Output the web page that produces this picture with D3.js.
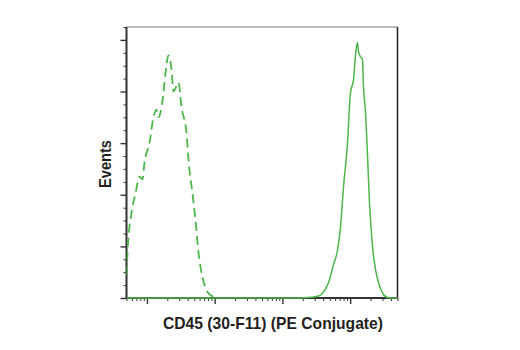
<!DOCTYPE html>
<html>
<head>
<meta charset="utf-8">
<script src="https://cdn.jsdelivr.net/npm/d3@7"></script>
<style>
  html, body { margin: 0; padding: 0; background: #fff; }
  svg { display: block; }
  .lbl { font-family: "Liberation Sans Narrow", "Arial Narrow", "Liberation Sans", Arial, sans-serif; font-weight: bold; fill: #231f20; }
</style>
</head>
<body>
<svg id="chart" width="520" height="350"></svg>
<script>
// Isotype control histogram (dashed): fluorescence intensity vs. event count
const controlIntensity = [50, 51.7, 59.3, 67.9, 77.7, 86.1, 92.2, 109, 125, 139, 148, 170, 188, 208, 231, 247, 293, 324, 384, 411, 471, 522, 578, 662, 784, 962, 1100];
const controlCounts    = [18, 35, 66, 81, 94, 92, 105, 120, 140, 146, 140, 153, 174, 188, 177, 160, 167, 148, 128, 107, 81, 60, 35, 16, 4.6, 0.8, 0];

// CD45 stained histogram (solid)
const stainedIntensity = [50, 18500, 26000, 34100, 43300, 49500, 56800, 65100, 72100, 79800, 91400, 101000, 112000, 120000, 128000, 133000, 142000, 152000, 157000, 169000, 180000, 193000, 214000, 237000, 262000, 300000, 356000, 422000, 500000];
const stainedCounts    = [0, 0, 0.5, 1.5, 7, 14, 26, 37, 55, 86, 120, 159, 169, 188, 198, 191, 187, 185, 165, 143, 112, 74, 40, 22, 12, 4, 0.4, 0, 0];

const xDomain = [50, 500000];
const xMajorTicks = [100, 1000, 10000, 100000];
const yDomain = [0, 210];
const yMajorTicks = [0, 40, 80, 120, 160, 200];

const xLabel = "CD45 (30-F11) (PE Conjugate)";
const yLabel = "Events";

const svg = d3.select("#chart");
const m = { left: 126.5, top: 27, right: 397.5, bottom: 298 };
const green = "#4cb748";

const x = d3.scaleLog().domain(xDomain).range([m.left, m.right]);
const y = d3.scaleLinear().domain(yDomain).range([m.bottom, m.top]);

// minor log ticks 2..9 in each decade
const xMinorTicks = [];
for (let d = 10; d <= 100000; d *= 10) {
  for (let k = 2; k <= 9; k++) {
    const v = k * d;
    if (v >= xDomain[0] && v <= xDomain[1] && !xMajorTicks.includes(v)) xMinorTicks.push(v);
  }
}
const yMinorTicks = d3.range(0, 211, 10).filter(v => !yMajorTicks.includes(v));

// frame: light top, dark right
svg.append("line").attr("x1", m.left).attr("x2", m.right).attr("y1", m.top).attr("y2", m.top)
  .attr("stroke", "#777").attr("stroke-width", 1);
svg.append("line").attr("x1", m.right).attr("x2", m.right).attr("y1", m.top).attr("y2", m.bottom)
  .attr("stroke", "#222").attr("stroke-width", 1.5);

function styleAxis(g, w) {
  g.select(".domain").remove();
  g.selectAll(".tick line").attr("stroke", "#333").attr("stroke-width", w);
  g.selectAll(".tick text").remove();
}

// y axis ticks
svg.append("g").attr("transform", `translate(${m.left},0)`)
  .call(d3.axisLeft(y).tickValues(yMajorTicks).tickSize(6).tickFormat(""))
  .call(g => styleAxis(g, 1.4));
svg.append("g").attr("transform", `translate(${m.left},0)`)
  .call(d3.axisLeft(y).tickValues(yMinorTicks).tickSize(3).tickFormat(""))
  .call(g => styleAxis(g, 1));

// x axis ticks
svg.append("g").attr("transform", `translate(0,${m.bottom})`)
  .call(d3.axisBottom(x).tickValues(xMajorTicks).tickSize(6).tickFormat(""))
  .call(g => styleAxis(g, 1.4));
svg.append("g").attr("transform", `translate(0,${m.bottom})`)
  .call(d3.axisBottom(x).tickValues(xMinorTicks).tickSize(3).tickFormat(""))
  .call(g => styleAxis(g, 1));

// left and bottom axis lines
svg.append("line").attr("x1", m.left).attr("x2", m.left).attr("y1", m.top).attr("y2", m.bottom + 1)
  .attr("stroke", "#333").attr("stroke-width", 2);
svg.append("line").attr("x1", m.left - 1).attr("x2", m.right).attr("y1", m.bottom).attr("y2", m.bottom)
  .attr("stroke", "#333").attr("stroke-width", 2);

const line = d3.line()
  .x(d => x(d[0]))
  .y(d => y(d[1]))
  .curve(d3.curveMonotoneX);

svg.append("clipPath").attr("id", "plotclip")
  .append("rect").attr("x", m.left).attr("y", m.top - 5).attr("width", m.right - m.left).attr("height", m.bottom - m.top + 6);

const plot = svg.append("g").attr("clip-path", "url(#plotclip)");

plot.append("path")
  .datum(controlIntensity.map((v, i) => [v, controlCounts[i]]))
  .attr("d", line)
  .attr("fill", "none")
  .attr("stroke", green)
  .attr("stroke-width", 1.8)
  .attr("stroke-dasharray", "9,5");

plot.append("path")
  .datum(stainedIntensity.map((v, i) => [v, stainedCounts[i]]))
  .attr("d", line)
  .attr("fill", "none")
  .attr("stroke", green)
  .attr("stroke-width", 1.5);

// axis titles (condensed bold look)
svg.append("text").attr("class", "lbl")
  .attr("x", 273).attr("y", 329)
  .attr("text-anchor", "middle").attr("font-size", 17)
  .attr("textLength", 220).attr("lengthAdjust", "spacingAndGlyphs")
  .text(xLabel);

svg.append("text").attr("class", "lbl")
  .attr("transform", `translate(111,164) rotate(-90)`)
  .attr("text-anchor", "middle").attr("font-size", 17)
  .attr("textLength", 48).attr("lengthAdjust", "spacingAndGlyphs")
  .text(yLabel);
</script>
</body>
</html>
